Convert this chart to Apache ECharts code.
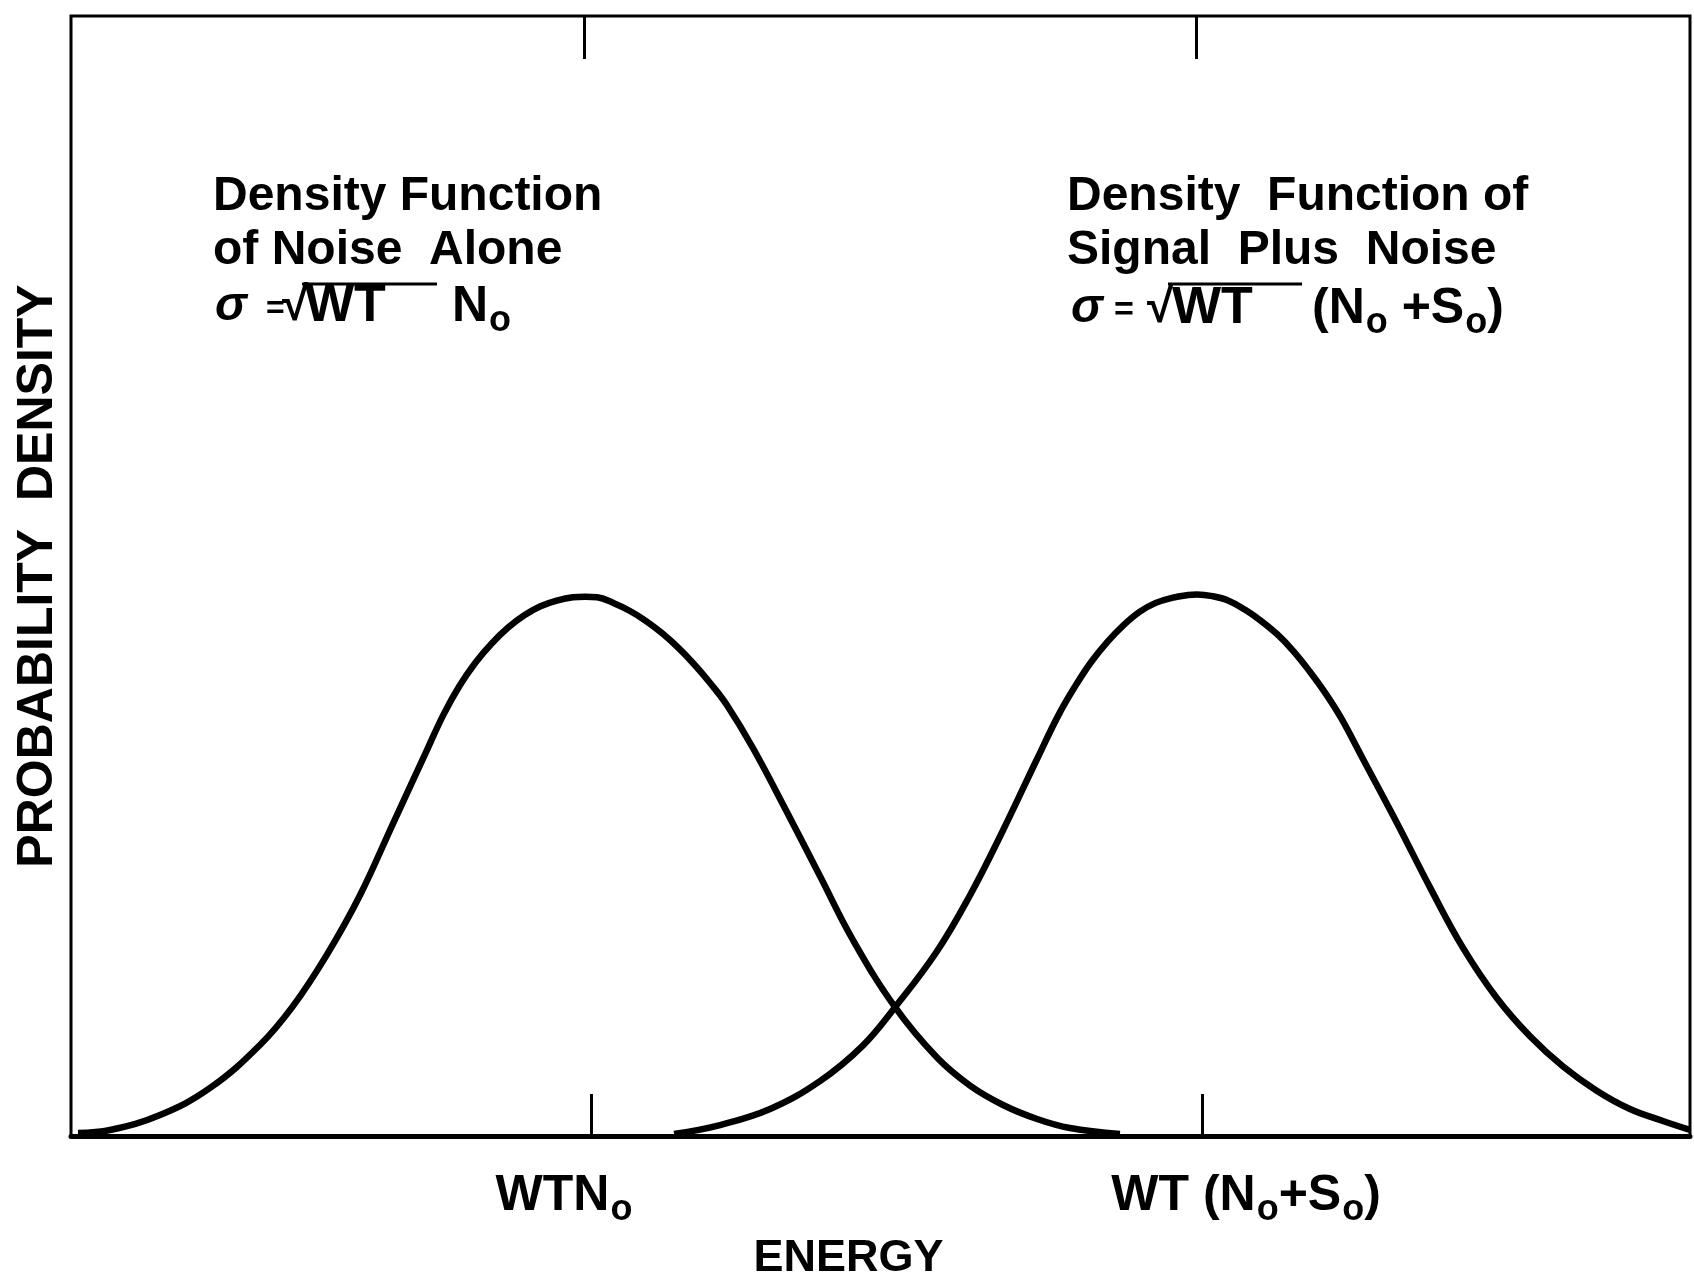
<!DOCTYPE html>
<html>
<head>
<meta charset="utf-8">
<script src="https://cdn.jsdelivr.net/npm/echarts@6/dist/echarts.min.js"></script>
<style>
html,body{margin:0;padding:0;background:#fff;}
#chart{width:1694px;height:1276px;}
</style>
</head>
<body>
<div id="chart"></div>
<script>
// Density of noise alone: [energy, density]
const noiseCurve = [[0.43,0.27],[2.41,0.54],[5.50,1.88],[8.59,4.29],[11.67,8.13],[13.71,11.6],[15.81,16.2],[17.85,21.5],[19.89,27.9],[22.0,34.5],[23.0,37.6],[24.0,40.2],[25.0,42.3],[26.0,44.0],[27.0,45.4],[28.0,46.5],[29.0,47.3],[30.0,47.8],[31.0,48.1],[31.75,48.15],[32.5,48.1],[33.5,47.6],[34.5,46.9],[35.5,46.0],[36.5,44.9],[37.5,43.6],[38.5,42.1],[39.5,40.4],[40.5,38.5],[42.12,34.64],[44.22,28.93],[46.26,23.21],[48.30,17.5],[50.90,11.5],[53.49,7.0],[55.53,4.5],[57.57,2.77],[59.67,1.52],[61.70,0.71],[64.79,0.18]];
// Density of signal plus noise: [energy, density]
const signalCurve = [[37.25,0.18],[40.09,0.98],[43.18,2.41],[46.26,4.9],[48.86,8.0],[50.90,11.5],[53.49,16.5],[55.53,21.5],[57.57,27.3],[59.67,33.66],[61.0,37.6],[62.0,40.1],[63.0,42.3],[64.0,44.1],[65.0,45.6],[66.0,46.8],[67.0,47.6],[68.0,48.05],[69.0,48.3],[69.55,48.35],[70.5,48.2],[71.5,47.8],[72.5,47.0],[73.5,46.0],[74.5,44.8],[75.5,43.3],[76.5,41.5],[77.5,39.5],[78.5,37.2],[79.80,33.66],[81.90,27.95],[83.94,22.2],[85.98,16.8],[88.08,12.3],[90.12,8.9],[92.16,6.2],[94.26,4.02],[96.29,2.41],[98.33,1.34],[100,0.54]];
// Tick marks and labels on the energy axis
const bottomTickValues = [32.12, 69.86];
const topTickValues = [31.69, 69.49];
const labelValues = [30.45, 72.58];
const tickLabels = ['{a|WTN}{s|o}', '{a|WT (N}{s|o}{a|+S}{s|o}{a|)}'];

const FONT = '"Liberation Sans", Arial, "DejaVu Sans", sans-serif';
const richStyles = {
  a: {fontFamily: FONT, fontWeight: 'bold', fontSize: 50, lineHeight: 60, color: '#000'},
  s: {fontFamily: FONT, fontWeight: 'bold', fontSize: 36, lineHeight: 30, padding: [28, 0, 0, 1], color: '#000'}
};
function txt(x, y, text, extra) {
  return {
    type: 'text', x: x, y: y, z: 100,
    style: Object.assign({text: text, fontFamily: FONT, fontWeight: 'bold', fontSize: 48, fill: '#000', verticalAlign: 'middle', align: 'left'}, extra || {})
  };
}
function richTxt(x, y, text) {
  return {type: 'text', x: x, y: y, z: 100,
    style: {text: text, fontFamily: FONT, fontWeight: 'bold', fontSize: 50, fill: '#000', verticalAlign: 'middle', align: 'left',
      rich: {a: {fontFamily: FONT, fontWeight: 'bold', fontSize: 50, lineHeight: 60, fill: '#000'},
             s: {fontFamily: FONT, fontWeight: 'bold', fontSize: 36, lineHeight: 30, padding: [28, 0, 0, 1], fill: '#000'}}}};
}
function bar(x1, x2, y) {
  return {type: 'line', z: 100, shape: {x1: x1, y1: y, x2: x2, y2: y}, style: {stroke: '#000', lineWidth: 3}};
}

const chart = echarts.init(document.getElementById('chart'), null, {renderer: 'canvas'});
chart.setOption({
  backgroundColor: '#fff',
  animation: false,
  grid: {left: 71, right: 4, top: 16, bottom: 140, containLabel: false, outerBoundsMode: 'none',
    show: true, borderColor: '#000', borderWidth: 3, backgroundColor: 'transparent'},
  xAxis: [{
    type: 'value', min: 0, max: 100, position: 'bottom',
    name: 'ENERGY', nameLocation: 'middle', nameGap: 100,
    nameTextStyle: {fontFamily: FONT, fontWeight: 'bold', fontSize: 45, color: '#000', padding: [0, 64, 0, 0]},
    axisLine: {show: true, onZero: false, lineStyle: {color: '#000', width: 5}},
    axisTick: {show: true, inside: true, length: 42, customValues: bottomTickValues, lineStyle: {color: '#000', width: 3}},
    axisLabel: {show: true, margin: 30, customValues: labelValues,
      formatter: function (v) { return tickLabels[labelValues.indexOf(v)]; }, rich: richStyles},
    splitLine: {show: false}
  }, {
    type: 'value', min: 0, max: 100, position: 'top',
    axisLine: {show: false, onZero: false},
    axisTick: {show: true, inside: true, length: 43, customValues: topTickValues, lineStyle: {color: '#000', width: 3}},
    axisLabel: {show: false},
    splitLine: {show: false}
  }],
  yAxis: {
    type: 'value', min: 0, max: 100,
    name: 'PROBABILITY  DENSITY', nameLocation: 'middle', nameGap: 8,
    nameTextStyle: {fontFamily: FONT, fontWeight: 'bold', fontSize: 50, color: '#000'},
    axisLine: {show: false}, axisTick: {show: false}, axisLabel: {show: false}, splitLine: {show: false}
  },
  series: [{
    name: 'Noise alone', type: 'line', data: noiseCurve, smooth: 0.4, showSymbol: false,
    lineStyle: {color: '#000', width: 6.5}, z: 5
  }, {
    name: 'Signal plus noise', type: 'line', data: signalCurve, smooth: 0.4, showSymbol: false,
    lineStyle: {color: '#000', width: 6.5}, z: 5
  }],
  graphic: [
    txt(213, 197, 'Density Function'),
    txt(213, 251, 'of Noise  Alone'),
    txt(215, 307, 'σ', {fontStyle: 'italic'}),
    txt(266, 309, '=', {fontSize: 32}),
    txt(282, 307, '√'),
    txt(305, 307, 'WT', {fontSize: 52}),
    richTxt(452, 307, '{a|N}{s|o}'),
    bar(302, 437, 284),
    txt(1067, 197, 'Density  Function of'),
    txt(1067, 251, 'Signal  Plus  Noise'),
    txt(1071, 309, 'σ', {fontStyle: 'italic'}),
    txt(1114, 311, '=', {fontSize: 34}),
    txt(1147, 309, '√'),
    txt(1172, 309, 'WT', {fontSize: 52}),
    richTxt(1312, 309, '{a|(N}{s|o}{a| +S}{s|o}{a|)}'),
    bar(1168, 1302, 284)
  ]
});
</script>
</body>
</html>
